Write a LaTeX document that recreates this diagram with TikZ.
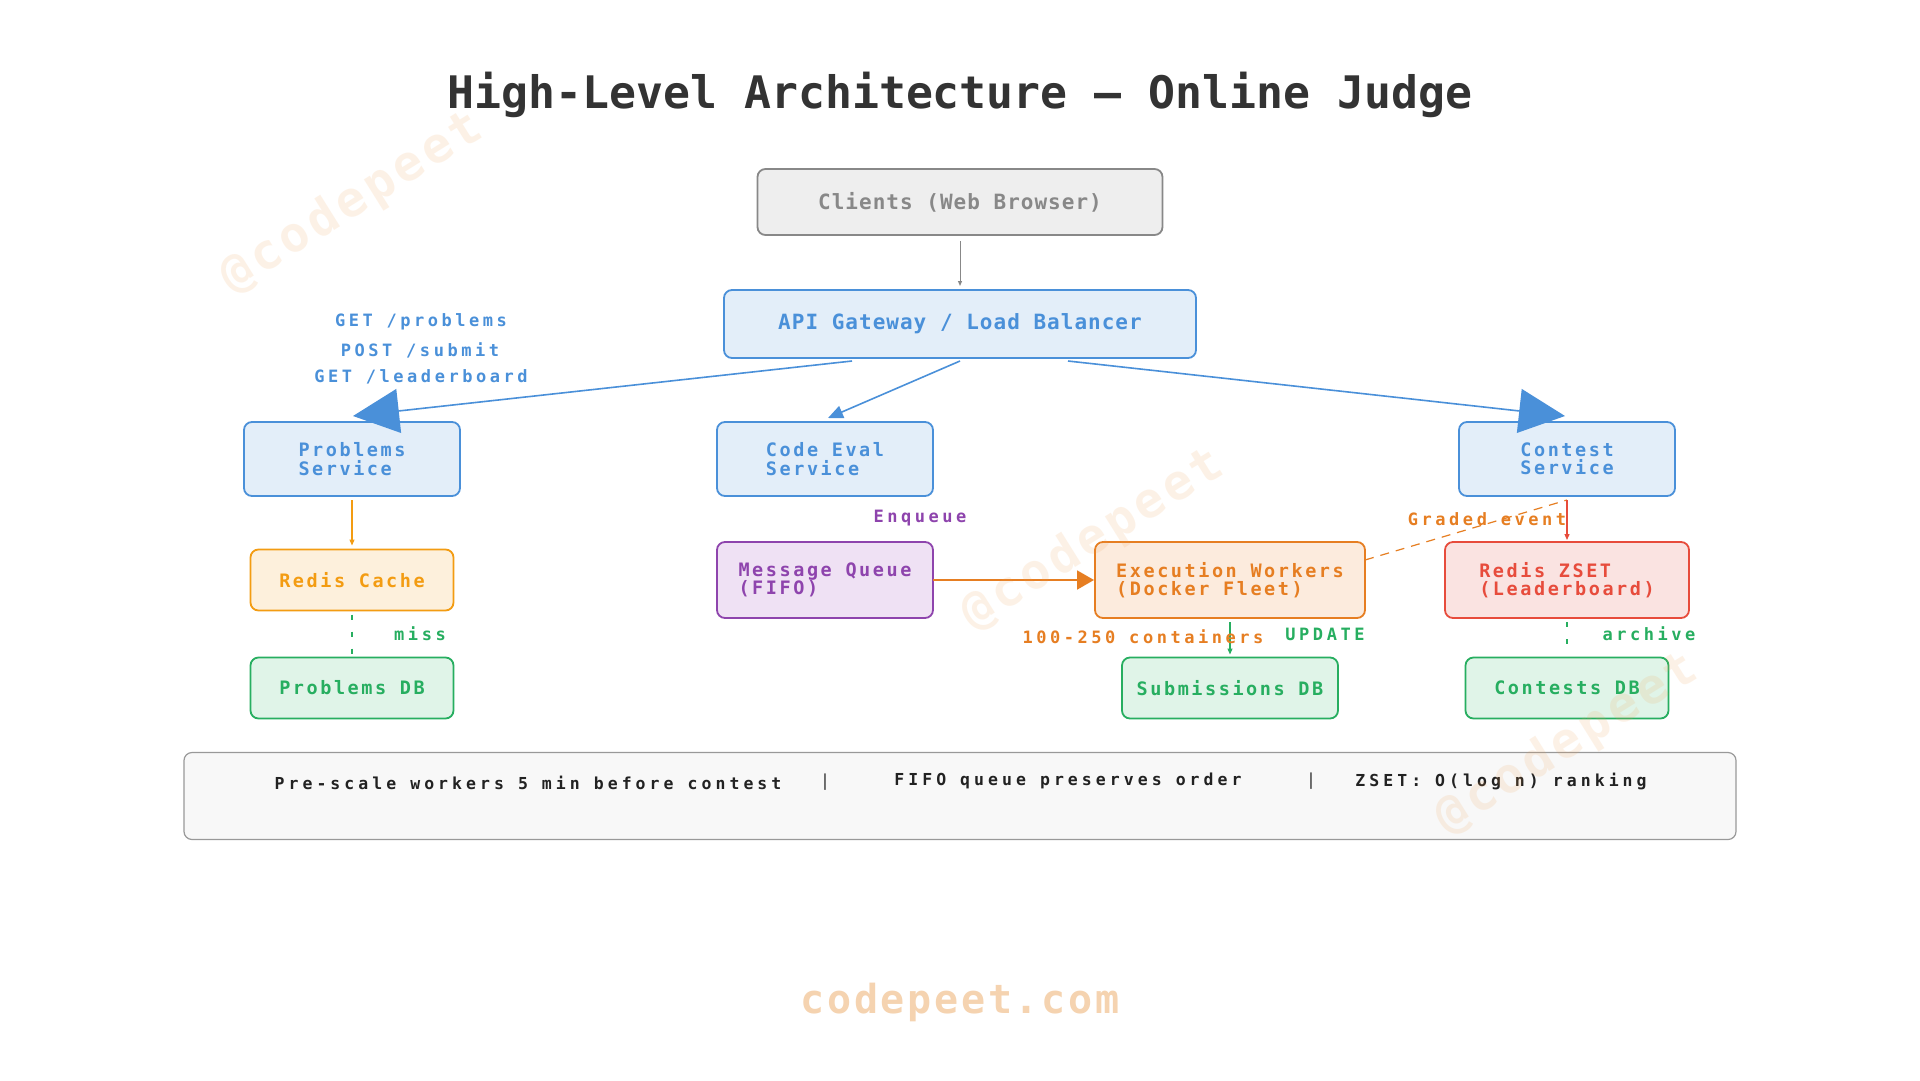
\documentclass[tikz,border=0pt]{standalone}
\usepackage{fontspec}
\usetikzlibrary{arrows.meta}
\newfontfamily\fTitle{DejaVu Sans Mono}
\newfontfamily\fTop[LetterSpace=4.8]{DejaVu Sans Mono}
\newfontfamily\fBox[LetterSpace=13.8]{DejaVu Sans Mono}
\newfontfamily\fLab[LetterSpace=20.8]{DejaVu Sans Mono}
\newfontfamily\fFoot[LetterSpace=24.5]{DejaVu Sans Mono}
\newfontfamily\fWm[LetterSpace=6.8]{DejaVu Sans Mono}
\newfontfamily\fWmA[LetterSpace=8.3]{DejaVu Sans Mono}
\definecolor{cblue}{HTML}{4A90D9}
\definecolor{cbluef}{HTML}{E3EEF9}
\definecolor{cgray}{HTML}{888888}
\definecolor{cgrayf}{HTML}{EEEEEE}
\definecolor{cyel}{HTML}{F39C12}
\definecolor{cyelf}{HTML}{FDF0DC}
\definecolor{cpur}{HTML}{8E44AD}
\definecolor{cpurf}{HTML}{EFE1F4}
\definecolor{corg}{HTML}{E67E22}
\definecolor{corgf}{HTML}{FCEBDD}
\definecolor{cred}{HTML}{E74C3C}
\definecolor{credf}{HTML}{FAE3E1}
\definecolor{cgrn}{HTML}{27AE60}
\definecolor{cgrnf}{HTML}{E0F4E8}
\definecolor{ctitle}{HTML}{333333}
\definecolor{cfoot}{HTML}{222222}
\definecolor{cfootf}{HTML}{F8F8F8}
\definecolor{cwm}{HTML}{F0A050}
\definecolor{cwmb}{HTML}{F5D3B0}
\begin{document}
\begin{tikzpicture}[x=1pt,y=-1pt,
  box/.style={draw, rounded corners=8pt, line width=1.8pt, inner sep=0pt, outer sep=0pt, align=left,
    font={\fBox\bfseries\fontsize{18.5}{18.4}\selectfont}},
  topbox/.style={box, font={\fTop\bfseries\fontsize{21}{22}\selectfont}},
  bluebox/.style={box, draw=cblue, fill=cbluef, text=cblue},
  lab/.style={inner sep=0pt, font={\fLab\bfseries\fontsize{17}{17}\selectfont}},
  foot/.style={inner sep=0pt, text=cfoot, font={\fFoot\bfseries\fontsize{16.5}{16.5}\selectfont}},
  wmk/.style={inner sep=0pt, text=cwm, opacity=0.14, rotate=32, font={\fWmA\bfseries\fontsize{49}{49}\selectfont}},
  conn/.style={line width=1.2pt},
  dashconn/.style={line width=1.2pt, dash pattern=on 5pt off 12pt},
  smalltip/.style={-{Triangle[length=6pt,width=5pt]}},
  bigtip/.style={-{Triangle[length=46pt,width=44pt]}}
]
\useasboundingbox (0,0) rectangle (1920,1080);
\fill[white] (0,0) rectangle (1920,1080);

% title
\node[inner sep=0pt, text=ctitle, font={\fTitle\bfseries\fontsize{44.8}{45}\selectfont}] (title) at (960,95) {High-Level Architecture — Online Judge};

% boxes
\node[topbox, draw=cgray, fill=cgrayf, text=cgray, minimum width=405pt, minimum height=66pt] (cl) at (960,202) {Clients (Web Browser)};
\node[topbox, draw=cblue, fill=cbluef, text=cblue, minimum width=472pt, minimum height=68pt] (api) at (960,324) {API Gateway / Load Balancer};

\node[bluebox, minimum width=216pt, minimum height=74pt] (ps) at (352,459) {Problems\\Service};
\node[bluebox, minimum width=216pt, minimum height=74pt] (ce) at (825,459) {Code Eval\\Service};
\node[bluebox, minimum width=216pt, minimum height=74pt] (cs) at (1567,459) {Contest\\Service};

\node[box, draw=cyel, fill=cyelf, text=cyel, minimum width=203pt, minimum height=61pt] (rc) at (352,580) {Redis Cache};
\node[box, draw=cpur, fill=cpurf, text=cpur, minimum width=216pt, minimum height=76pt] (mq) at (825,580) {Message Queue\\(FIFO)};
\node[box, draw=corg, fill=corgf, text=corg, minimum width=270pt, minimum height=76pt] (ew) at (1230,580) {Execution Workers\\(Docker Fleet)};
\node[box, draw=cred, fill=credf, text=cred, minimum width=244pt, minimum height=76pt] (zs) at (1567,580) {Redis ZSET\\(Leaderboard)};

\node[box, draw=cgrn, fill=cgrnf, text=cgrn, minimum width=203pt, minimum height=61pt] (pdb) at (352,688) {Problems DB};
\node[box, draw=cgrn, fill=cgrnf, text=cgrn, minimum width=216pt, minimum height=61pt] (sdb) at (1230,688) {Submissions DB};
\node[box, draw=cgrn, fill=cgrnf, text=cgrn, minimum width=203pt, minimum height=61pt] (cdb) at (1567,688) {Contests DB};

% footer
\node[draw=gray!80, fill=cfootf, rounded corners=8pt, line width=1.2pt, minimum width=1552pt, minimum height=87pt, inner sep=0pt] (ft) at (960,796) {};
\node[foot] (f1) at (528,783) {Pre-scale workers 5 min before contest};
\node[foot, text=cfoot!70] (s1) at (825,782) {|};
\node[foot] (f2) at (1068,781) {FIFO queue preserves order};
\node[foot, text=cfoot!70] (s2) at (1311,781) {|};
\node[foot] (f3) at (1501,781) {ZSET: O(log n) ranking};

% connectors
\draw[conn, cgray, line width=1pt, -{Triangle[length=5pt,width=4pt]}] ([yshift=-6pt]cl.south) -- ([yshift=4pt]api.north);
\draw[cblue, line width=1.6pt, bigtip] ([xshift=-108pt,yshift=-3pt]api.south) -- ([xshift=1pt,yshift=6pt]ps.north);
\draw[cblue, line width=1.6pt, -{Triangle[length=15pt,width=13pt]}] ([yshift=-3pt]api.south) -- ([xshift=3pt,yshift=4pt]ce.north);
\draw[cblue, line width=1.6pt, bigtip] ([xshift=108pt,yshift=-3pt]api.south) -- ([xshift=-2pt,yshift=6pt]cs.north);

\draw[conn, cyel, smalltip] ([yshift=-4pt]ps.south) -- ([yshift=4pt]rc.north);
\draw[dashconn, cgrn] ([yshift=-4pt]rc.south) -- ([yshift=4pt]pdb.north);
\draw[corg, line width=2pt, -{Triangle[length=17pt,width=19pt]}] (mq.east) -- ([xshift=-1pt]ew.west);
\draw[conn, cgrn, smalltip] ([yshift=-4pt]ew.south) -- ([yshift=3pt]sdb.north);
\draw[dashconn, corg, dash pattern=on 9pt off 7pt] ([yshift=20pt]ew.east) -- ([yshift=-4pt]cs.south);
\draw[conn, cred, smalltip] ([yshift=-4pt]cs.south) -- ([yshift=2pt]zs.north);
\draw[dashconn, cgrn] ([yshift=-4pt]zs.south) -- ([yshift=4pt]cdb.north);

% labels
\node[lab, text=cblue] (l1) at (421,322) {GET /problems};
\node[lab, text=cblue] (l2) at (420,350) {POST /submit};
\node[lab, text=cblue] (l3) at (421,377) {GET /leaderboard};
\node[lab, text=cpur] (l4) at (920,518) {Enqueue};
\node[lab, text=corg] (l5) at (1487,519) {Graded event};
\node[lab, text=cgrn] (l6) at (420,634) {miss};
\node[lab, text=corg] (l7) at (1143,637) {100-250 containers};
\node[lab, text=cgrn] (l8) at (1325,634) {UPDATE};
\node[lab, text=cgrn] (l9) at (1649,634) {archive};

% watermarks
\node[wmk] (w1) at (352,203) {@codepeet};
\node[wmk] (w2) at (1093,540) {@codepeet};
\node[wmk] (w3) at (1567,744) {@codepeet};
\node[inner sep=0pt, text=cwmb, font={\fWm\bfseries\fontsize{40}{40}\selectfont}] (wb) at (960,1002) {codepeet.com};
\end{tikzpicture}
\end{document}
